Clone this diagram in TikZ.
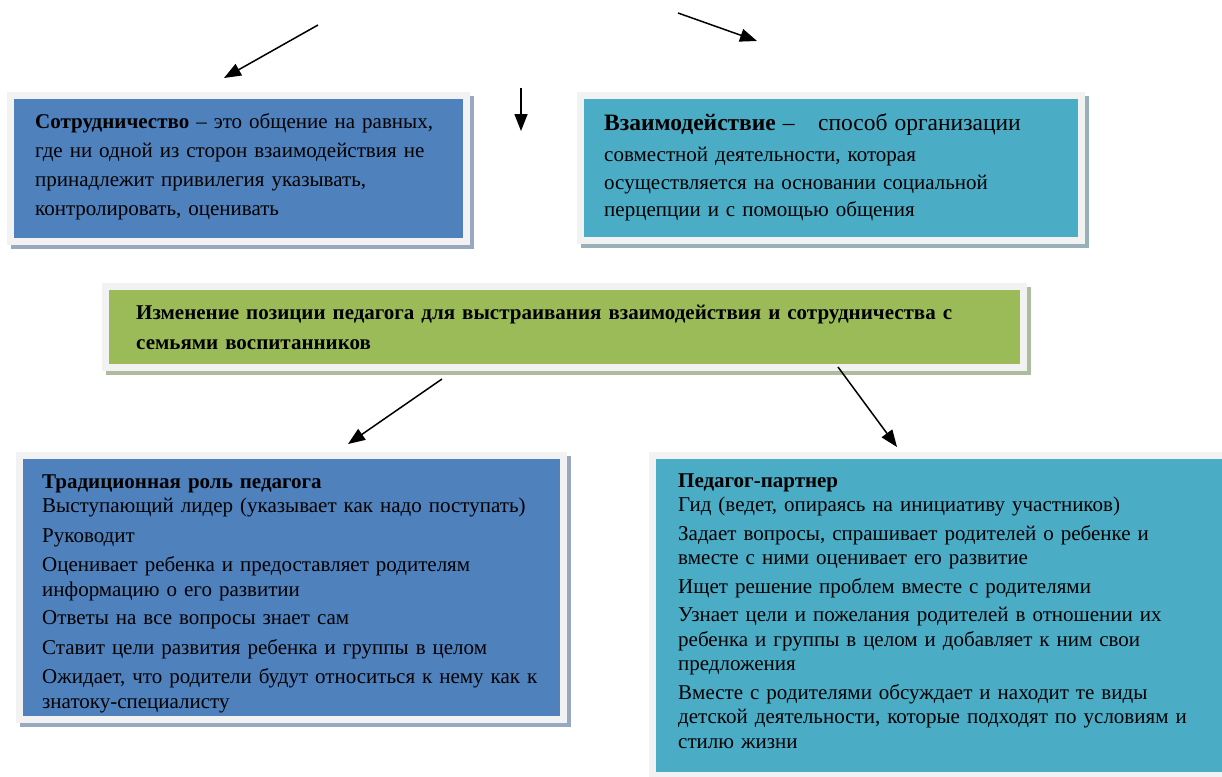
\documentclass[tikz,border=0pt]{standalone}
\usepackage{fontspec}
\setmainfont{Liberation Serif}
\usepackage{xcolor}
\usetikzlibrary{arrows.meta,positioning,shadows}

\definecolor{cardblue}{HTML}{4F81BD}
\definecolor{cardteal}{HTML}{4BACC6}
\definecolor{cardgreen}{HTML}{9BBB59}
\definecolor{cardframe}{HTML}{F2F2F2}
\definecolor{shblue}{HTML}{97A8C0}
\definecolor{shteal}{HTML}{98B1B9}
\definecolor{shgreen}{HTML}{AEBC9E}

\begin{document}
\begin{tikzpicture}[x=1pt,y=-1pt,>={Triangle[length=17pt,width=13pt]}]
\tikzstyle{card}=[draw=cardframe, line width=7pt, anchor=north west, inner sep=0pt]
\tikzstyle{txt}=[anchor=base west, inner sep=0pt, align=left, text width=560pt,
  font=\fontsize{21}{24.5}\selectfont]
\tikzstyle{arr}=[->, line width=1.5pt]
\useasboundingbox (0,0) rectangle (1222,776);

% boxes
\node[card, fill=cardblue, minimum width=456pt, minimum height=146pt,
  drop shadow={fill=shblue, draw=shblue, line width=7pt, opacity=1, shadow xshift=4pt, shadow yshift=-4pt}]
  (coop) at (7,92) {};
\node[card, fill=cardteal, minimum width=501pt, minimum height=145pt,
  drop shadow={fill=shteal, draw=shteal, line width=7pt, opacity=1, shadow xshift=4pt, shadow yshift=-4pt}]
  (inter) at (577,92) {};
\node[card, fill=cardgreen, minimum width=918pt, minimum height=81pt,
  drop shadow={fill=shgreen, draw=shgreen, line width=7pt, opacity=1, shadow xshift=4pt, shadow yshift=-4pt}]
  (change) at (102,283) {};
\node[card, fill=cardblue, minimum width=544pt, minimum height=264pt,
  drop shadow={fill=shblue, draw=shblue, line width=7pt, opacity=1, shadow xshift=4pt, shadow yshift=-4pt}]
  (trad) at (16,452) {};
\node[card, fill=cardteal, minimum width=600pt, minimum height=320pt,
  drop shadow={fill=shteal, draw=shteal, line width=7pt, opacity=1, shadow xshift=4pt, shadow yshift=-4pt}]
  (partner) at (649,452) {};

% texts
\node[txt, font=\fontsize{21}{29}\selectfont] (coopText) at (35,128)
  {\textbf{Сотрудничество} – это общение на равных,\\
   где ни одной из сторон взаимодействия не\\
   принадлежит привилегия указывать,\\
   контролировать, оценивать};
\node[txt, font=\fontsize{21}{27.5}\selectfont] (interText) at (604,130)
  {{\fontsize{23.5}{27.5}\selectfont\textbf{Взаимодействие} –\quad способ организации}\\[4pt]
   совместной деятельности, которая\\
   осуществляется на основании социальной\\
   перцепции и с помощью общения};
\node[txt, text width=900pt, font=\bfseries\fontsize{21}{30}\selectfont] (changeText) at (136,319)
  {Изменение позиции педагога для выстраивания взаимодействия и сотрудничества с\\
   семьями воспитанников};
\node[txt] (tradText) at (42,488)
  {{\bfseries Традиционная роль педагога}\\
   Выступающий лидер (указывает как надо поступать)\\[5pt]
   Руководит\\[5pt]
   Оценивает ребенка и предоставляет родителям\\
   информацию о его развитии\\[4pt]
   Ответы на все вопросы знает сам\\[5pt]
   Ставит цели развития ребенка и группы в целом\\[5pt]
   Ожидает, что родители будут относиться к нему как к\\
   знатоку-специалисту};
\node[txt] (partnerText) at (678,487)
  {{\bfseries Педагог-партнер}\\
   Гид (ведет, опираясь на инициативу участников)\\[4pt]
   Задает вопросы, спрашивает родителей о ребенке и\\
   вместе с ними оценивает его развитие\\[4pt]
   Ищет решение проблем вместе с родителями\\[4pt]
   Узнает цели и пожелания родителей в отношении их\\
   ребенка и группы в целом и добавляет к ним свои\\
   предложения\\[4pt]
   Вместе с родителями обсуждает и находит те виды\\
   детской деятельности, которые подходят по условиям  и\\
   стилю жизни};

% arrows
\coordinate (a1) at (318,25);
\coordinate (a1t) at (224,78);
\coordinate (a2) at (678,13);
\coordinate (a2t) at (757,41);
\coordinate (a3) at (521,88);
\coordinate (a3t) at (521,131);
\coordinate (a4) at (442,379);
\coordinate (a4t) at (348,444);
\coordinate (a5) at (838,367);
\coordinate (a5t) at (897,447);
\draw[arr] (a1) -- (a1t);
\draw[arr] (a2) -- (a2t);
\draw[arr] (a3) -- (a3t);
\draw[arr] (a4) -- (a4t);
\draw[arr] (a5) -- (a5t);
\end{tikzpicture}
\end{document}
